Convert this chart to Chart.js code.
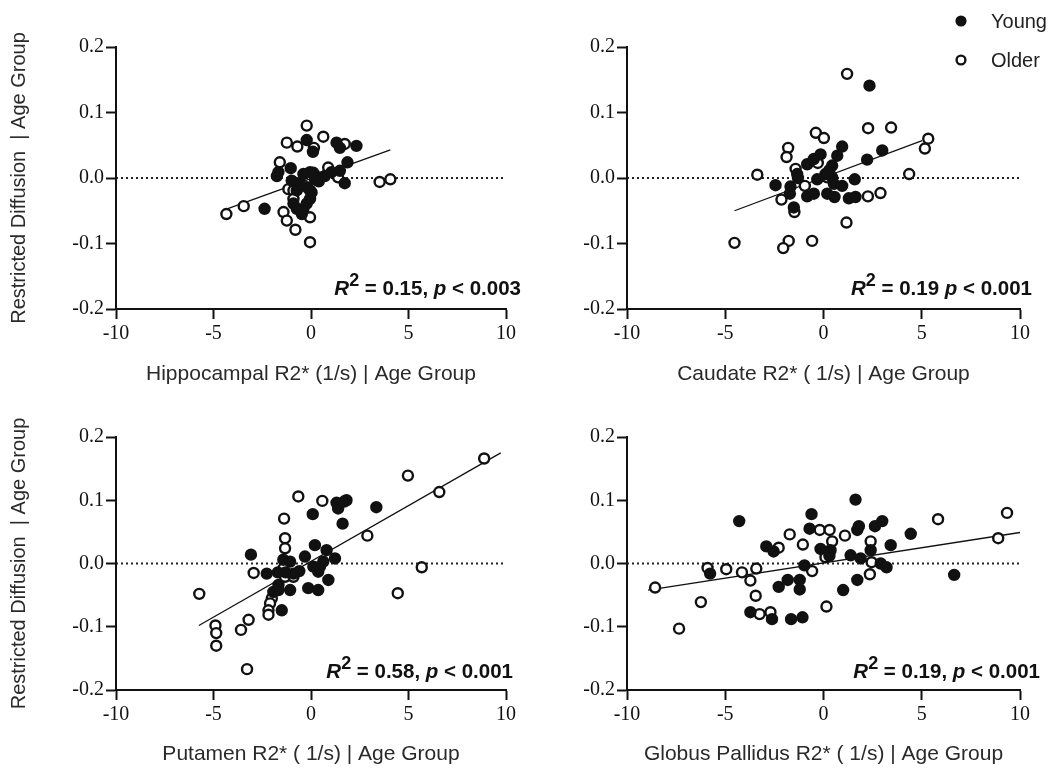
<!DOCTYPE html>
<html>
<head>
<meta charset="utf-8">
<script src="https://cdn.jsdelivr.net/npm/chart.js@4.4.1/dist/chart.umd.min.js"></script>
<style>
  body { margin: 0; background: #fff; }
  #wrap { position: relative; width: 1049px; height: 768px; background: #fff; overflow: hidden; }
  #wrap canvas { position: absolute; }
</style>
</head>
<body>
<div id="wrap">
  <canvas id="c0" width="530" height="400" style="left:0;top:0"></canvas>
  <canvas id="c1" width="519" height="400" style="left:530px;top:0"></canvas>
  <canvas id="c2" width="530" height="384" style="left:0;top:384px"></canvas>
  <canvas id="c3" width="519" height="384" style="left:530px;top:384px"></canvas>
</div>
<script>
// x = R2* (1/s) | age group, y = restricted diffusion | age group
const hippoYoung = [[-0.22,0.058],[0.1,0.040],[1.31,0.054],[1.48,0.046],[2.33,0.049],[1.87,0.024],
  [-1.04,0.015],[-1.67,0.009],[-1.75,0.003],[-0.99,-0.004],[-0.39,0.006],[-0.05,0.009],[0.12,0.008],
  [0.2,-0.002],[0.46,0.001],[0.71,0.003],[1.05,0.009],[1.48,0.011],[1.73,-0.008],[-0.73,-0.019],
  [-0.22,-0.014],[0.03,-0.022],[-0.05,-0.032],[-0.22,-0.039],[-0.39,-0.047],[-0.9,-0.039],
  [-0.73,-0.047],[-0.47,-0.055],[-2.38,-0.047],[-0.6,-0.008],[0.4,-0.005]];
const hippoOlder = [[-0.22,0.080],[-1.24,0.054],[-0.70,0.048],[0.63,0.063],[1.73,0.052],[0.15,0.046],
  [-1.6,0.024],[0.88,0.016],[1.39,0.001],[3.52,-0.006],[4.07,-0.002],[-1.16,-0.017],[-0.9,-0.019],
  [-0.05,-0.019],[-0.9,-0.032],[-4.34,-0.055],[-3.45,-0.043],[-1.41,-0.052],[-1.24,-0.065],
  [-0.05,-0.060],[-0.8,-0.079],[-0.05,-0.098]];
const hippoFit = [[-4.3,-0.047],[4.07,0.043]];

const caudYoung = [[2.34,0.141],[0.95,0.048],[2.99,0.042],[0.70,0.034],[2.22,0.028],[-0.15,0.036],
  [-0.49,0.029],[-0.83,0.021],[0.44,0.019],[-1.34,0.006],[0.1,0.006],[-0.32,-0.002],[0.44,0.001],
  [1.59,-0.002],[-2.44,-0.011],[-1.68,-0.013],[0.95,-0.012],[0.53,-0.009],[-1.71,-0.024],
  [-0.83,-0.028],[-0.49,-0.024],[0.19,-0.024],[0.56,-0.029],[1.29,-0.031],[1.63,-0.029],
  [-1.51,-0.045],[-1.3,0.0],[0.3,0.012]];
const caudOlder = [[1.2,0.159],[2.27,0.076],[3.44,0.077],[-0.39,0.069],[0.02,0.061],[5.33,0.060],
  [5.16,0.045],[-1.80,0.046],[-1.88,0.032],[-0.29,0.023],[-1.42,0.014],[-3.37,0.005],[4.36,0.006],
  [0.19,0.001],[-0.95,-0.012],[2.26,-0.028],[2.9,-0.023],[-2.14,-0.033],[-1.48,-0.052],[1.17,-0.068],
  [-4.53,-0.099],[-1.77,-0.096],[-2.05,-0.107],[-0.58,-0.096]];
const caudFit = [[-4.53,-0.050],[5.02,0.057]];

const putYoung = [[1.31,0.096],[1.39,0.087],[1.82,0.100],[1.7,0.098],[3.35,0.089],[0.09,0.078],
  [1.62,0.063],[0.2,0.029],[0.8,0.021],[-3.08,0.014],[-1.42,0.006],[-1.07,0.003],[-0.31,0.011],
  [1.23,0.008],[0.12,-0.005],[0.46,-0.005],[0.63,0.003],[0.37,-0.013],[-2.27,-0.016],[-1.7,-0.014],
  [-1.3,-0.014],[-0.9,-0.016],[-0.6,-0.012],[0.89,-0.026],[-1.67,-0.034],[-1.07,-0.042],
  [-0.14,-0.039],[0.37,-0.042],[-1.93,-0.045],[-1.67,-0.042],[-1.5,-0.074]];
const putOlder = [[8.88,0.166],[4.97,0.139],[6.58,0.113],[-0.65,0.106],[0.58,0.099],[-1.38,0.071],
  [2.89,0.044],[-1.33,0.040],[-1.33,0.024],[5.68,-0.006],[-1.42,-0.008],[-2.94,-0.015],[-1.33,-0.021],
  [-0.9,-0.021],[-5.73,-0.048],[4.45,-0.047],[-2.01,-0.055],[-2.1,-0.063],[-2.18,-0.074],
  [-2.18,-0.081],[-3.2,-0.089],[-3.59,-0.105],[-4.9,-0.098],[-4.86,-0.110],[-4.86,-0.130],
  [-3.28,-0.167]];
const putFit = [[-5.75,-0.098],[9.73,0.175]];

const gpYoung = [[1.63,0.101],[-4.29,0.067],[-0.61,0.078],[2.99,0.067],[2.62,0.059],[1.80,0.059],
  [1.72,0.053],[-0.71,0.055],[4.44,0.047],[3.42,0.029],[-2.91,0.027],[-2.54,0.019],[-0.15,0.023],
  [0.36,0.021],[2.40,0.021],[1.38,0.013],[1.89,0.008],[2.91,0.000],[3.21,-0.006],[-0.97,-0.003],
  [-5.77,-0.016],[6.65,-0.018],[-1.82,-0.026],[-1.21,-0.026],[1.72,-0.026],[-2.28,-0.037],
  [-1.21,-0.041],[1.00,-0.042],[-3.72,-0.077],[-2.62,-0.088],[-1.65,-0.088],[-1.07,-0.085],
  [0.3,0.012]];
const gpOlder = [[9.34,0.080],[5.83,0.070],[-0.19,0.053],[0.31,0.053],[-1.72,0.046],[1.09,0.044],
  [8.89,0.040],[0.44,0.035],[2.40,0.035],[-1.05,0.030],[-2.28,0.025],[0.10,0.010],[2.45,0.002],
  [-5.9,-0.007],[-4.95,-0.009],[-4.15,-0.014],[-3.42,-0.008],[-3.72,-0.027],[-0.58,-0.012],
  [2.36,-0.017],[-3.45,-0.051],[-6.24,-0.061],[0.15,-0.068],[-3.25,-0.080],[-2.70,-0.077],
  [-8.57,-0.038],[-7.35,-0.103]];
const gpFit = [[-8.93,-0.042],[10,0.049]];

const xTitles = ['Hippocampal R2* (1/s) | Age Group', 'Caudate R2* ( 1/s) | Age Group',
  'Putamen R2* ( 1/s) | Age Group', 'Globus Pallidus R2* ( 1/s) | Age Group'];
const yTitle = 'Restricted Diffusion  | Age Group';
const r2Values = ['0.15', '0.19', '0.58', '0.19'];
const pValues = ['0.003', '0.001', '0.001', '0.001'];
const statSep = [', ', ' ', ', ', ', '];
const groupLabels = ['Young', 'Older'];
const xTicks = [-10, -5, 0, 5, 10];
const yTicks = [-0.2, -0.1, 0.0, 0.1, 0.2];

const SANS = '"Liberation Sans", Arial, Helvetica, sans-serif';
const SERIF = '"Liberation Serif", "Times New Roman", serif';
const INK = '#111';

const toPts = arr => arr.map(p => ({ x: p[0], y: p[1] }));

// R^2 / p text in the lower right corner
const statsPlugin = {
    id: 'stats',
    afterDraw(chart, args, opts) {
        const ctx = chart.ctx;
        const a = chart.chartArea;
        const parts = [
            { t: 'R', f: 'italic bold 20.5px ' + SANS, dy: 0 },
            { t: '2', f: 'bold 18px ' + SANS, dy: -9 },
            { t: ' = ' + opts.r2 + opts.sep, f: 'bold 20.5px ' + SANS, dy: 0 },
            { t: 'p', f: 'italic bold 20.5px ' + SANS, dy: 0 },
            { t: ' < ' + opts.p, f: 'bold 20.5px ' + SANS, dy: 0 },
        ];
        ctx.save();
        let total = 0;
        for (let p of parts) {
            ctx.font = p.f;
            p.w = ctx.measureText(p.t).width;
            total += p.w;
        }
        let x = a.right + opts.dx - total;
        const y = a.bottom + opts.dy;
        ctx.fillStyle = INK;
        ctx.textBaseline = 'alphabetic';
        for (let p of parts) {
            ctx.font = p.f;
            ctx.fillText(p.t, x, y + p.dy);
            x += p.w;
        }
        ctx.restore();
    }
};

const legendPlugin = {
    id: 'groupLegend',
    afterDraw(chart, args, opts) {
        if (!opts.show) return;
        const ctx = chart.ctx;
        ctx.save();
        ctx.font = '20px ' + SANS;
        ctx.textBaseline = 'middle';
        for (let i = 0; i < 2; i++) {
            const ds = chart.data.datasets[i];
            const y = opts.y + i * opts.gap;
            ctx.beginPath();
            ctx.arc(opts.x, y, 4.4, 0, 2 * Math.PI);
            ctx.fillStyle = ds.backgroundColor;
            ctx.fill();
            ctx.lineWidth = 2.4;
            ctx.strokeStyle = ds.borderColor;
            ctx.stroke();
            ctx.fillStyle = '#222';
            ctx.fillText(ds.label, opts.x + 30, y + 1);
        }
        ctx.restore();
    }
};

function makePanel(id, idx, young, older, fit, o) {
    return new Chart(document.getElementById(id), {
        type: 'scatter',
        data: {
            datasets: [
                { label: groupLabels[0], data: toPts(young), pointRadius: 5, pointBorderWidth: 2.4,
                  backgroundColor: INK, borderColor: INK, order: 1 },
                { label: groupLabels[1], data: toPts(older), pointRadius: 5, pointBorderWidth: 2.4,
                  backgroundColor: '#fff', borderColor: INK, order: 2 },
                { type: 'line', data: toPts(fit), borderColor: INK, borderWidth: 1.3,
                  pointRadius: 0, order: 3 },
                { type: 'line', data: [{ x: xTicks[0], y: 0 }, { x: xTicks[4], y: 0 }], borderColor: '#222',
                  borderWidth: 2, borderDash: [2, 3], pointRadius: 0, order: 4 },
            ],
        },
        options: {
            responsive: false,
            animation: false,
            layout: { padding: { left: 0, top: o.top, right: o.right, bottom: 0 } },
            scales: {
                x: {
                    type: 'linear', min: xTicks[0], max: xTicks[4],
                    afterFit: s => { s.height = o.xh; },
                    afterBuildTicks: s => { s.ticks = xTicks.map(v => ({ value: v })); },
                    ticks: { font: { family: SERIF, size: 20 }, color: INK, padding: 3, maxRotation: 0,
                             autoSkip: false, callback: v => String(v) },
                    grid: { display: true, drawOnChartArea: false, drawTicks: true, tickLength: 10,
                            tickWidth: 2, tickColor: INK },
                    border: { display: true, width: 2, color: INK },
                    title: { display: true, text: xTitles[idx], font: { family: SANS, size: 21 },
                             color: '#2a2a2a', padding: { top: 0, bottom: o.xtp } },
                },
                y: {
                    type: 'linear', min: yTicks[0], max: yTicks[4],
                    afterFit: s => { s.width = o.yw; },
                    afterBuildTicks: s => { s.ticks = yTicks.map(v => ({ value: v })); },
                    ticks: { font: { family: SERIF, size: 20 }, color: INK, padding: 2,
                             callback: v => v.toFixed(1) },
                    grid: { display: true, drawOnChartArea: false, drawTicks: true, tickLength: 10,
                            tickWidth: 2, tickColor: INK },
                    border: { display: true, width: 2, color: INK },
                    title: { display: o.yTitle, text: yTitle, font: { family: SANS, size: 20 },
                             color: '#2a2a2a', padding: { top: 7, bottom: 0 } },
                },
            },
            plugins: {
                legend: { display: false },
                tooltip: { enabled: false },
                stats: { r2: r2Values[idx], p: pValues[idx], sep: statSep[idx], dx: o.sdx, dy: o.sdy },
                groupLegend: { show: !!o.legend, x: 431, y: 21, gap: 39 },
            },
        },
        plugins: [statsPlugin, legendPlugin],
    });
}

makePanel('c0', 0, hippoYoung, hippoOlder, hippoFit,
    { top: 47, right: 24, xh: 91, xtp: 13, yw: 116, yTitle: true, sdx: 15, sdy: -14 });
makePanel('c1', 1, caudYoung, caudOlder, caudFit,
    { top: 47, right: 29, xh: 91, xtp: 13, yw: 97, yTitle: false, sdx: 12, sdy: -14, legend: true });
makePanel('c2', 2, putYoung, putOlder, putFit,
    { top: 53, right: 24, xh: 78, xtp: 1, yw: 116, yTitle: true, sdx: 7, sdy: -12 });
makePanel('c3', 3, gpYoung, gpOlder, gpFit,
    { top: 53, right: 29, xh: 78, xtp: 1, yw: 97, yTitle: false, sdx: 20, sdy: -12 });
</script>
</body>
</html>
